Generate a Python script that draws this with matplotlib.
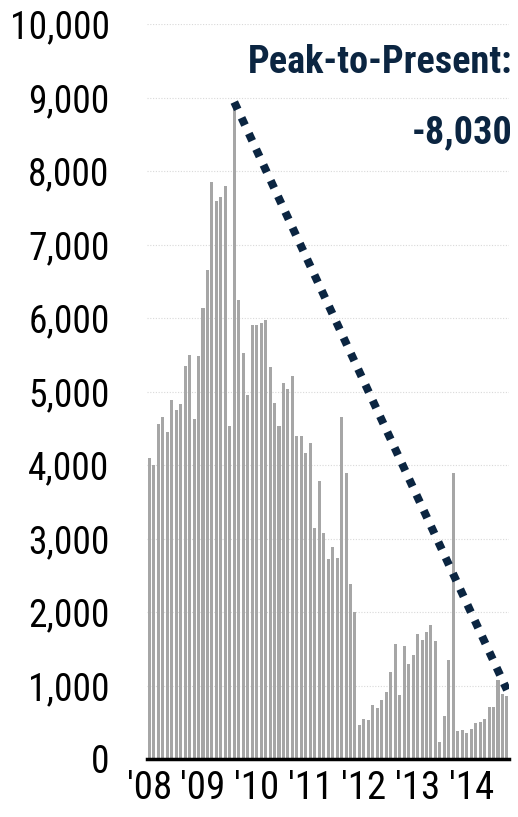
import numpy as np
import matplotlib.pyplot as plt

plt.rcParams['font.family'] = ['Roboto Condensed', 'DejaVu Sans']

# monthly values, Jan 2008 - Sep 2014
values = np.array([
    4100, 4000, 4560, 4660, 4450, 4890, 4750, 4830, 5350, 5500, 4630, 5480,
    6140, 6650, 7850, 7600, 7650, 7800, 4530, 8890, 6250, 5520, 4960, 5900,
    5910, 5930, 5980, 5330, 4840, 4530, 5120, 5030, 5210, 4390, 4400, 4170,
    4300, 3140, 3780, 3080, 2720, 2880, 2740, 4650, 3890, 2380, 2000, 460,
    550, 535, 740, 695, 800, 915, 1180, 1570, 875, 1535, 1290, 1420,
    1695, 1620, 1730, 1820, 1605, 230, 590, 1345, 3895, 380, 390, 360,
    410, 490, 505, 545, 710, 705, 1080, 885, 860,
])
year_labels = ["'08", "'09", "'10", "'11", "'12", "'13", "'14"]
peak_label = 'Peak-to-Present:'
change_label = '-8,030'

x = np.arange(len(values))
peak_i = int(np.argmax(values))
last_i = len(values) - 1

fig = plt.figure(figsize=(5.18, 8.17), dpi=100)
ax = fig.add_axes([0.284, 0.071, 0.699, 0.8994])

ax.bar(x, values, width=0.68, color='#a6a6a6', zorder=2)

ax.plot([peak_i, last_i], [values[peak_i] + 50, values[last_i] + 80],
        color='#0b2541', linewidth=5.8, linestyle=(0, (1.0, 1.15)),
        dash_capstyle='butt', zorder=3)

ax.set_xlim(-0.5, len(values) - 0.5)
ax.set_ylim(0, 10000)
ax.set_yticks(np.arange(0, 10001, 1000))
ax.set_yticklabels([f'{v:,}' for v in range(0, 10001, 1000)])
ax.set_xticks(np.arange(len(year_labels)) * 12)
ax.set_xticklabels(year_labels)
ax.tick_params(axis='y', length=0, pad=27, labelsize=27)
ax.tick_params(axis='x', length=0, pad=8, labelsize=28)
ax.grid(axis='y', color='#d9d9d9', linestyle=(0, (1, 1.5)), linewidth=0.8, zorder=0)

for s in ['left', 'right', 'top']:
    ax.spines[s].set_visible(False)
ax.spines['bottom'].set_linewidth(2.5)
ax.spines['bottom'].set_color('black')

fig.text(0.99, 0.924, peak_label, ha='right', va='center',
         fontsize=27.5, fontweight='bold', color='#0b2541')
fig.text(0.99, 0.837, change_label, ha='right', va='center',
         fontsize=27.5, fontweight='bold', color='#0b2541')

fig.savefig('out.png', dpi=100)
